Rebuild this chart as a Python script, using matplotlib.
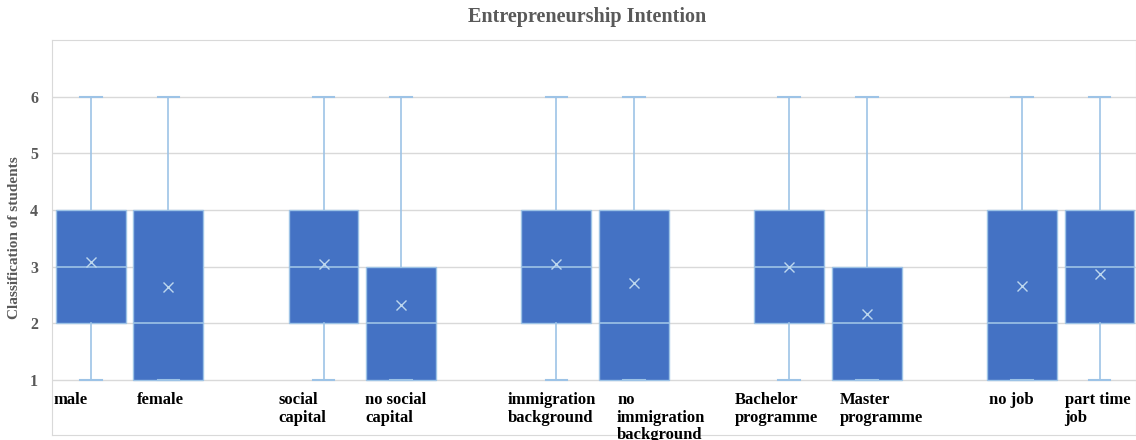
#!/usr/bin/env python
## Box plot of entrepreneurship intention by student group (Excel-style box & whisker)
import matplotlib
matplotlib.use("Agg")
import matplotlib.pyplot as plt

categories = ["male", "female", "social\ncapital", "no social\ncapital",
              "immigration\nbackground", "no\nimmigration\nbackground",
              "Bachelor\nprogramme", "Master\nprogramme", "no job", "part time\njob"]
q1 = [2, 1, 2, 1, 2, 1, 2, 1, 1, 2]
q3 = [4, 4, 4, 3, 4, 4, 4, 3, 4, 4]
medians = [3, 2, 3, 2, 3, 2, 3, 2, 2, 3]
whisk_low = [1, 1, 1, 1, 1, 1, 1, 1, 1, 1]
whisk_high = [6, 6, 6, 6, 6, 6, 6, 6, 6, 6]
means = [3.09, 2.65, 3.04, 2.33, 3.04, 2.71, 3.00, 2.16, 2.66, 2.87]
yticks = [1, 2, 3, 4, 5, 6]

# layout: two boxes per group, one empty slot between groups
positions = [0, 1, 3, 4, 6, 7, 9, 10, 12, 13]
label_shift = [-2, 3, -10, -1, -14, 18, -19, 8, 2, 0]  # pixels from box left edge

blue = "#4472C4"
light = "#9DC3E6"
grey = "#595959"
serif = "Liberation Serif"

fig = plt.figure(figsize=(11.36, 4.4), dpi=100)
ax = fig.add_axes([52 / 1136, 5 / 440, 1084 / 1136, 395 / 440])

stats = []
for i in range(len(categories)):
    stats.append(dict(med=medians[i], q1=q1[i], q3=q3[i], whislo=whisk_low[i],
                      whishi=whisk_high[i], mean=means[i], fliers=[]))

ax.bxp(stats, positions=positions, widths=0.9, patch_artist=True, showmeans=True,
       boxprops=dict(facecolor=blue, edgecolor=light, linewidth=1.0),
       whiskerprops=dict(color=light, linewidth=1.2),
       capprops=dict(color=light, linewidth=1.5),
       capwidths=0.28,
       medianprops=dict(color=light, linewidth=1.2),
       meanprops=dict(marker="x", markeredgecolor="#BDD7EE", markersize=6.5, markeredgewidth=1))

ax.set_xlim(-0.5, 13.47)
ax.set_ylim(0.03, 7.0)
ax.set_yticks(yticks)
ax.set_xticks([])
ax.set_axisbelow(True)
ax.yaxis.grid(True, color="#D9D9D9", linewidth=1)
for s in ax.spines.values():
    s.set_color("#D9D9D9")
ax.tick_params(axis="y", length=0, pad=10)
for t in ax.get_yticklabels():
    t.set_fontfamily(serif)
    t.set_fontweight("bold")
    t.set_fontsize(11.5)
    t.set_color(grey)

for i, lab in enumerate(categories):
    x = positions[i] - 0.45 + label_shift[i] / 77.6
    ax.text(x, 0.78, lab, ha="left", va="top", fontsize=12, fontweight="bold",
            family=serif, color="black", linespacing=1.12)

fig.text(15 / 1136, 1 - 238 / 440, "Classification of students", rotation=90,
         ha="center", va="center", fontsize=11, fontweight="bold", family=serif, color=grey)
fig.text(587 / 1136, 1 - 17 / 440, "Entrepreneurship Intention", ha="center", va="center",
         fontsize=14.5, fontweight="bold", family=serif, color=grey)

plt.savefig("out.png", dpi=100)
